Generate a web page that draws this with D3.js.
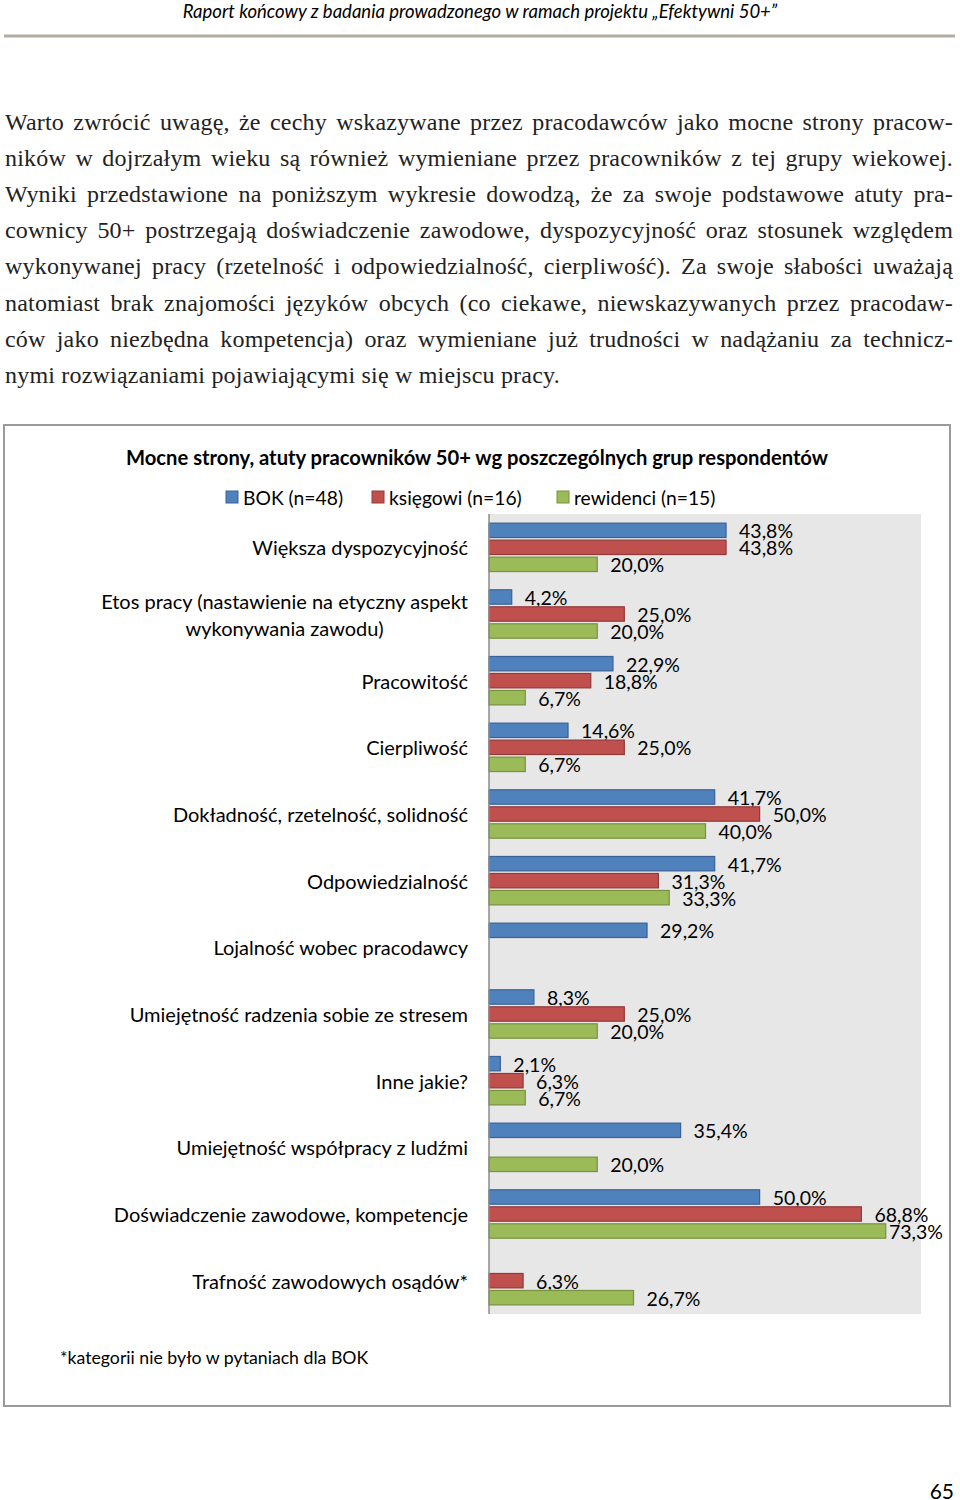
<!DOCTYPE html>
<html><head><meta charset="utf-8">
<script src="https://cdn.jsdelivr.net/npm/d3@7"></script>
<style>
body{margin:0;background:#fff;}
#page{position:relative;width:960px;height:1500px;overflow:hidden;}
.hdr{position:absolute;left:0;width:960px;top:0;text-align:center;font-family:Lato,sans-serif;font-style:italic;font-size:18.5px;line-height:22px;color:#000;}
.line{position:absolute;left:5px;width:948px;font-family:"Liberation Serif",serif;font-size:24px;letter-spacing:0.2px;line-height:36px;color:#222;text-align:justify;text-align-last:justify;white-space:nowrap;}
.line.last{text-align-last:left;}
svg{position:absolute;left:0;top:0;}
</style></head>
<body><div id="page"></div>
<script>
const headerText = "Raport końcowy z badania prowadzonego w ramach projektu „Efektywni 50+”";
const bodyLines = [
 "Warto zwrócić uwagę, że cechy wskazywane przez pracodawców jako mocne strony pracow-",
 "ników w dojrzałym wieku są również wymieniane przez pracowników z tej grupy wiekowej.",
 "Wyniki przedstawione na poniższym wykresie dowodzą, że za swoje podstawowe atuty pra-",
 "cownicy 50+ postrzegają doświadczenie zawodowe, dyspozycyjność oraz stosunek względem",
 "wykonywanej pracy (rzetelność i odpowiedzialność, cierpliwość). Za swoje słabości uważają",
 "natomiast brak znajomości języków obcych (co ciekawe, niewskazywanych przez pracodaw-",
 "ców jako niezbędna kompetencja) oraz wymieniane już trudności w nadążaniu za technicz-",
 "nymi rozwiązaniami pojawiającymi się w miejscu pracy."
];
const chartTitle = "Mocne strony, atuty pracowników 50+ wg poszczególnych grup respondentów";
const footnote = "*kategorii nie było w pytaniach dla BOK";
const pageNumber = "65";

const categories = [
 "Większa dyspozycyjność",
 "Etos pracy (nastawienie na etyczny aspekt\nwykonywania zawodu)",
 "Pracowitość",
 "Cierpliwość",
 "Dokładność, rzetelność, solidność",
 "Odpowiedzialność",
 "Lojalność wobec pracodawcy",
 "Umiejętność radzenia sobie ze stresem",
 "Inne jakie?",
 "Umiejętność współpracy z ludźmi",
 "Doświadczenie zawodowe, kompetencje",
 "Trafność zawodowych osądów*"
];
const seriesNames = ["BOK (n=48)", "księgowi (n=16)", "rewidenci (n=15)"];
const bokValues       = [43.8, 4.2, 22.9, 14.6, 41.7, 41.7, 29.2, 8.3, 2.1, 35.4, 50.0, null];
const ksiegowiValues  = [43.8, 25.0, 18.8, 25.0, 50.0, 31.3, null, 25.0, 6.3, null, 68.8, 6.3];
const rewidenciValues = [20.0, 20.0, 6.7, 6.7, 40.0, 33.3, null, 20.0, 6.7, 20.0, 73.3, 26.7];
const seriesValues = [bokValues, ksiegowiValues, rewidenciValues];
const xDomain = [0, 80];

const fills = ["#4f81bd", "#c0504d", "#9bbb59"];
const strokes = ["#3a6394", "#8f3b39", "#77913f"];

const page = d3.select("#page");
page.append("div").attr("class","hdr").style("top","0px").text(headerText);
bodyLines.forEach((t,i)=>{
  page.append("div").attr("class","line"+(i===bodyLines.length-1?" last":""))
    .style("top",(104+i*36.1)+"px").text(t);
});

const svg = page.append("svg").attr("width",960).attr("height",1500);
svg.append("rect").attr("x",4).attr("y",34.5).attr("width",951).attr("height",3).attr("fill","#b2ada2");

// chart frame
svg.append("rect").attr("x",4).attr("y",425).attr("width",946).attr("height",981)
  .attr("fill","#fff").attr("stroke","#9a9a9a").attr("stroke-width",2);

svg.append("text").attr("x",477).attr("y",457).attr("text-anchor","middle").attr("dominant-baseline","central")
  .attr("font-family","Lato, sans-serif").attr("font-weight","bold").attr("font-size",20.2).attr("fill","#000").text(chartTitle);

// legend
const legendX = [226, 372, 557];
const lg = svg.append("g");
seriesNames.forEach((n,i)=>{
  lg.append("rect").attr("x",legendX[i]).attr("y",491).attr("width",12).attr("height",12)
    .attr("fill",fills[i]).attr("stroke",strokes[i]).attr("stroke-width",1);
  lg.append("text").attr("x",legendX[i]+17).attr("y",497).attr("dominant-baseline","central")
    .attr("font-family","Lato, sans-serif").attr("font-size",19.3).attr("fill","#000").text(n);
});

// plot
const plotTop = 514, plotBottom = 1314, plotLeft = 489, plotRight = 921;
const x = d3.scaleLinear().domain(xDomain).range([plotLeft, 922]);
const y0 = d3.scaleBand().domain(d3.range(categories.length)).range([plotTop, plotBottom]).paddingInner(0.274).paddingOuter(0.137);
const y1 = d3.scaleBand().domain(d3.range(3)).range([0, y0.bandwidth()]).paddingInner(0.153);

svg.append("rect").attr("x",plotLeft).attr("y",plotTop).attr("width",plotRight-plotLeft).attr("height",plotBottom-plotTop).attr("fill","#e7e7e7");

const groups = svg.append("g").selectAll("g").data(categories).join("g")
  .attr("transform",(d,i)=>`translate(0,${y0(i)})`);

const labelMaxRight = 943;
seriesValues.forEach((vals,s)=>{
  groups.each(function(d,i){
    const v = vals[i];
    if(v===null) return;
    const g = d3.select(this);
    g.append("rect").attr("x",x(0)).attr("y",y1(s)).attr("width",x(v)-x(0)).attr("height",y1.bandwidth())
      .attr("fill",fills[s]).attr("stroke",strokes[s]).attr("stroke-width",1.2);
    const t = g.append("text").attr("x",x(v)+13).attr("y",y1(s)+y1.bandwidth()/2+0.5).attr("dominant-baseline","central")
      .attr("font-family","Lato, sans-serif").attr("font-size",19.5).attr("fill","#000")
      .text(d3.format(".1f")(v).replace(".",",")+"%");
    const w = t.node().getComputedTextLength();
    if(x(v)+13+w > labelMaxRight) t.attr("x", labelMaxRight - w);
  });
});

// axis line
const yAxis = d3.axisLeft(y0).tickSize(0).tickFormat("");
svg.append("g").attr("transform",`translate(${plotLeft},0)`).call(yAxis)
  .call(g=>g.select(".domain").attr("stroke","#8c8c8c").attr("stroke-width",1.5).attr("d",`M0,${plotTop}V${plotBottom}`));

// category labels
const lab = svg.append("g").attr("font-family","Lato, sans-serif").attr("font-size",20).attr("fill","#000");
categories.forEach((c,i)=>{
  const lines = c.split("\n");
  const cy = y0(i)+y0.bandwidth()/2;
  if(lines.length===1){
    lab.append("text").attr("x",468).attr("y",cy).attr("text-anchor","end").attr("dominant-baseline","central").text(c);
  } else {
    const t = lab.append("text").attr("text-anchor","middle").attr("dominant-baseline","central");
    const spans = lines.map((l,k)=>t.append("tspan").attr("x",0).attr("y",cy+(k-(lines.length-1)/2)*27).text(l));
    const w = d3.max(spans, sp=>sp.node().getComputedTextLength());
    t.selectAll("tspan").attr("x",468-w/2);
  }
});

svg.append("text").attr("x",60).attr("y",1357).attr("dominant-baseline","central")
  .attr("font-family","Lato, sans-serif").attr("font-size",17.7).attr("fill","#000").text(footnote);
svg.append("text").attr("x",954).attr("y",1490).attr("text-anchor","end").attr("dominant-baseline","central")
  .attr("font-family","Lato, sans-serif").attr("font-size",21).attr("fill","#000").text(pageNumber);
</script>
</body></html>
